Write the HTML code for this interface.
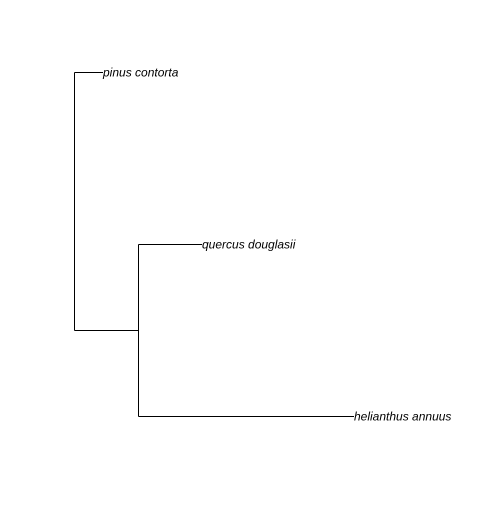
<!DOCTYPE html>
<html><head><style>body{margin:0;background:#fff}</style></head><body>
<svg width="504" height="504" xmlns="http://www.w3.org/2000/svg">
<g stroke="#000" stroke-width="1" fill="none" shape-rendering="crispEdges">
<line x1="74.5" y1="72.5" x2="74.5" y2="330.5"/>
<line x1="74.5" y1="72.5" x2="103" y2="72.5"/>
<line x1="74.5" y1="330.5" x2="138.5" y2="330.5"/>
<line x1="138.5" y1="244.5" x2="138.5" y2="416.5"/>
<line x1="138.5" y1="244.5" x2="202" y2="244.5"/>
<line x1="138.5" y1="416.5" x2="354" y2="416.5"/>
</g>
<g font-family="Liberation Sans, sans-serif" font-style="italic" font-size="12" fill="#000">
<text x="103" y="76.5">pinus contorta</text>
<text x="202" y="248.5">quercus douglasii</text>
<text x="354" y="420.5">helianthus annuus</text>
</g>
</svg>
</body></html>
